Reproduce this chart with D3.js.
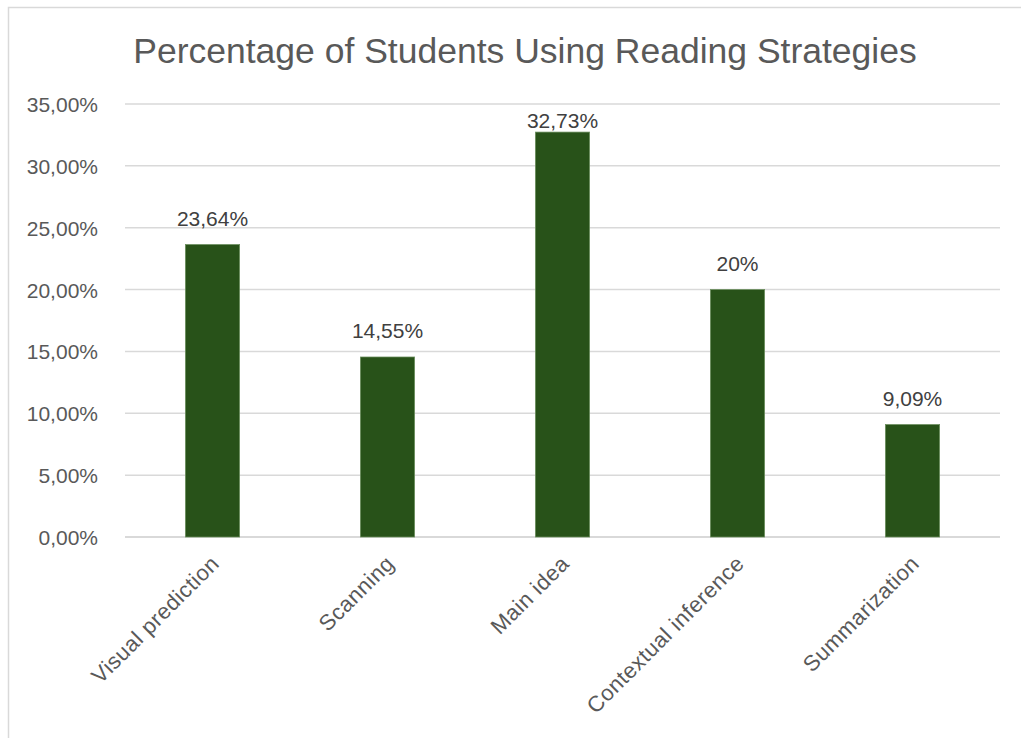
<!DOCTYPE html>
<html>
<head>
<meta charset="utf-8">
<script src="https://cdn.jsdelivr.net/npm/d3@7"></script>
<style>
  body { margin: 0; background: #fff; }
  svg text { font-family: "Liberation Sans", Arial, sans-serif; fill: #595959; }
</style>
</head>
<body>
<svg id="chart" width="1021" height="738"></svg>
<script>
const categories = ["Visual prediction", "Scanning", "Main idea", "Contextual inference", "Summarization"];
const values = [23.64, 14.55, 32.73, 20, 9.09];
const valueLabels = ["23,64%", "14,55%", "32,73%", "20%", "9,09%"];
const yTicks = [0, 5, 10, 15, 20, 25, 30, 35];
const title = "Percentage of Students Using Reading Strategies";

const svg = d3.select("svg#chart");

// chart frame
svg.append("rect")
  .attr("x", 8.5).attr("y", 7.5)
  .attr("width", 1030).attr("height", 760)
  .attr("fill", "#fff")
  .attr("stroke", "#d9d9d9")
  .attr("stroke-width", 1.5);

const plotLeft = 125, plotRight = 1000, plotTop = 104, plotBottom = 537;

const x = d3.scaleBand()
  .domain(categories)
  .range([plotLeft, plotRight])
  .paddingInner(0.69)
  .paddingOuter(0.345);

const y = d3.scaleLinear()
  .domain([0, 35])
  .range([plotBottom, plotTop]);

// title
svg.append("text")
  .attr("x", 525)
  .attr("y", 63)
  .attr("text-anchor", "middle")
  .style("font-size", "35.5px")
  .text(title);

// gridlines
svg.append("g")
  .selectAll("line")
  .data(yTicks)
  .enter()
  .append("line")
  .attr("x1", plotLeft).attr("x2", plotRight)
  .attr("y1", (d) => y(d)).attr("y2", (d) => y(d))
  .attr("stroke", "#d9d9d9")
  .attr("stroke-width", (d) => (d === 0 ? 2 : 1.5));

// y axis labels
const yAxis = d3.axisLeft(y)
  .tickValues(yTicks)
  .tickSize(0)
  .tickPadding(0)
  .tickFormat((d) => d.toFixed(2).replace(".", ",") + "%");

svg.append("g")
  .attr("transform", "translate(98,0)")
  .call(yAxis)
  .call((g) => g.select(".domain").remove())
  .call((g) => g.selectAll("text")
    .attr("dy", "0.36em")
    .style("font-size", "21px")
    .style("font-family", "'Liberation Sans', Arial, sans-serif")
    .attr("fill", "#595959"));

// bars
svg.append("g")
  .selectAll("rect")
  .data(values)
  .enter()
  .append("rect")
  .attr("x", (d, i) => x(categories[i]))
  .attr("y", (d) => y(d))
  .attr("width", x.bandwidth())
  .attr("height", (d) => y(0) - y(d))
  .attr("fill", "#285219")
  .attr("stroke", "#6b8f5e")
  .attr("stroke-width", 0.75);

// value labels (kept inside the plot area like excel does)
svg.append("g")
  .selectAll("text")
  .data(values)
  .enter()
  .append("text")
  .attr("x", (d, i) => x(categories[i]) + x.bandwidth() / 2)
  .attr("y", (d) => Math.max(y(d) - 19, plotTop + 24))
  .attr("text-anchor", "middle")
  .style("font-size", "21px")
  .style("fill", "#404040")
  .text((d, i) => valueLabels[i]);

// x labels, rotated
svg.append("g")
  .selectAll("text")
  .data(categories)
  .enter()
  .append("text")
  .attr("transform", (d) => {
    const cx = x(d) + x.bandwidth() / 2 - 3;
    return "translate(" + cx + "," + (plotBottom + 17) + ") rotate(-45)";
  })
  .attr("text-anchor", "end")
  .attr("dy", "0.7em")
  .style("font-size", "22px")
  .style("letter-spacing", "0.5px")
  .text((d) => d);
</script>
</body>
</html>
